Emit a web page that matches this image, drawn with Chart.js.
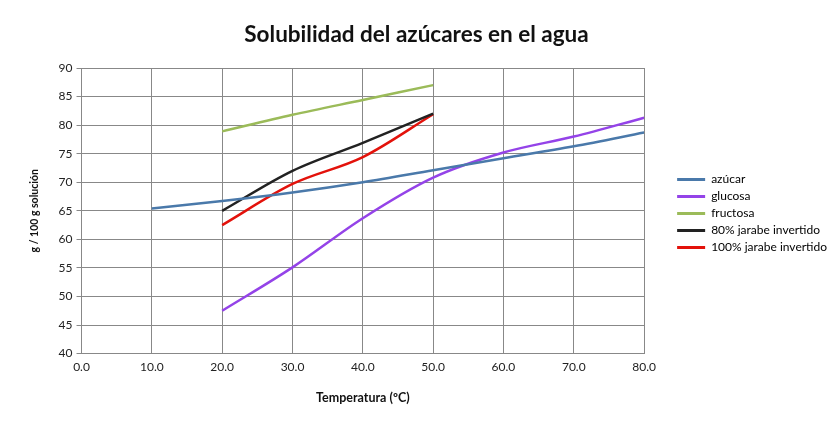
<!DOCTYPE html>
<html>
<head>
<meta charset="utf-8">
<script src="https://cdn.jsdelivr.net/npm/chart.js@4.4.1/dist/chart.umd.min.js"></script>
<style>
  html, body { margin: 0; padding: 0; background: #fff; }
  #wrap { width: 840px; height: 421px; }
</style>
</head>
<body>
<div id="wrap"><canvas id="myChart"></canvas></div>
<script>
// temperatures (ºC) and solubility (g / 100 g solución) for each sugar
const azucarTemps = [10, 20, 30, 40, 50, 60, 70, 80];
const azucarVals = [65.4, 66.7, 68.2, 70.0, 72.1, 74.2, 76.3, 78.7];

const glucosaTemps = [20, 30, 40, 50, 60, 70, 80];
const glucosaVals = [47.5, 55.1, 63.7, 70.8, 75.2, 78.0, 81.3];

const fructosaTemps = [20, 30, 40, 50];
const fructosaVals = [78.9, 81.8, 84.4, 87.0];

const jarabe80Temps = [20, 30, 40, 50];
const jarabe80Vals = [65.0, 72.0, 76.9, 82.0];

const jarabe100Temps = [20, 30, 40, 50];
const jarabe100Vals = [62.5, 69.7, 74.4, 81.9];

const seriesNames = ["azúcar", "glucosa", "fructosa", "80% jarabe invertido", "100% jarabe invertido"];
const seriesColors = ["#4a79aa", "#9443e8", "#9bbb59", "#222222", "#e3120b"];

function toPoints(xs, ys) {
    return xs.map((x, i) => ({ x: x, y: ys[i] }));
}

const allTemps = [azucarTemps, glucosaTemps, fructosaTemps, jarabe80Temps, jarabe100Temps];
const allVals = [azucarVals, glucosaVals, fructosaVals, jarabe80Vals, jarabe100Vals];

const datasets = seriesNames.map((name, i) => ({
    label: name,
    data: toPoints(allTemps[i], allVals[i]),
    borderColor: seriesColors[i],
    backgroundColor: seriesColors[i],
    borderWidth: 2.5,
    pointRadius: 0,
    cubicInterpolationMode: 'monotone',
    fill: false
}));

// push the legend a bit away from the plot, like the original
const legendShift = {
    id: 'legendShift',
    afterLayout(chart) {
        if (chart.legend) {
            chart.legend.left += 28;
            chart.legend.right += 28;
            chart.legend.top += 5;
            chart.legend.bottom += 5;
        }
    }
};

Chart.defaults.font.family = "Lato, 'DejaVu Sans', sans-serif";
Chart.defaults.color = "#222";

new Chart("myChart", {
    type: "line",
    data: { datasets: datasets },
    plugins: [legendShift],
    options: {
        responsive: true,
        maintainAspectRatio: false,
        animation: false,
        layout: { padding: { left: 24, right: 31, top: 8, bottom: 12 } },
        plugins: {
            title: {
                display: true,
                text: "Solubilidad del azúcares en el agua",
                font: { size: 22.5, weight: 'bold' },
                color: "#111",
                padding: { top: 13, bottom: 20 }
            },
            legend: {
                position: 'right',
                labels: {
                    boxWidth: 28,
                    boxHeight: 3,
                    padding: 5,
                    font: { size: 12 },
                    color: "#222",
                    generateLabels: (chart) => chart.data.datasets.map((ds, i) => ({
                        text: ds.label,
                        fillStyle: ds.borderColor,
                        strokeStyle: ds.borderColor,
                        lineWidth: 0,
                        datasetIndex: i
                    }))
                }
            },
            tooltip: { enabled: false }
        },
        scales: {
            x: {
                type: 'linear',
                min: 0,
                max: 80,
                ticks: {
                    stepSize: 10,
                    font: { size: 12 },
                    color: "#222",
                    padding: 6,
                    callback: (v) => v.toFixed(1)
                },
                grid: { color: "#888", drawTicks: false },
                border: { color: "#888" },
                title: {
                    display: true,
                    text: "Temperatura (ºC)",
                    font: { size: 12.5, weight: 'bold' },
                    color: "#111",
                    padding: { top: 10 }
                }
            },
            y: {
                min: 40,
                max: 90,
                ticks: {
                    stepSize: 5,
                    font: { size: 12 },
                    color: "#222",
                    padding: 4
                },
                grid: { color: "#888", tickLength: 5 },
                border: { color: "#888" },
                title: {
                    display: true,
                    text: "g / 100 g solución",
                    font: { size: 10.5, weight: 'bold' },
                    color: "#111",
                    padding: { bottom: 14 }
                }
            }
        }
    }
});
</script>
</body>
</html>
